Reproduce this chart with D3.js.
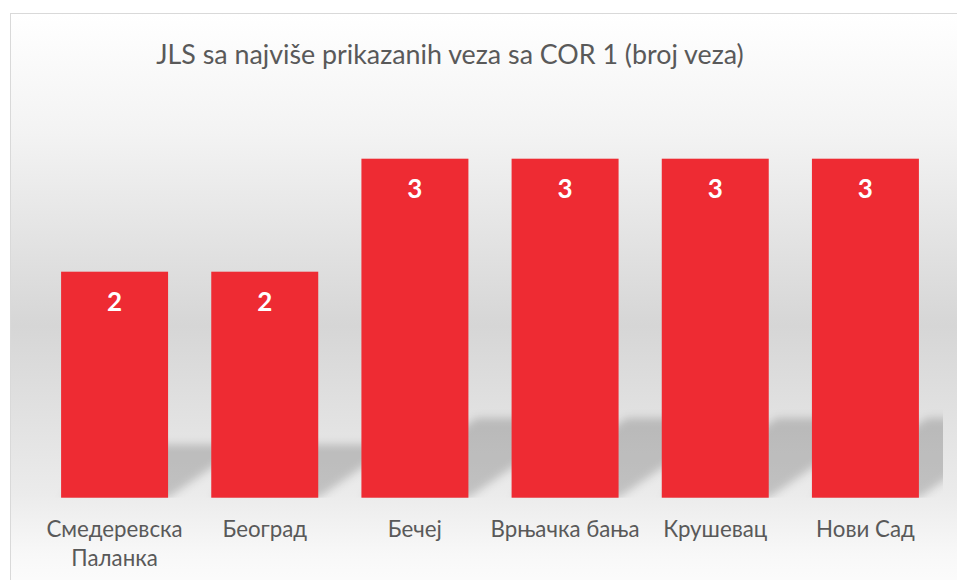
<!DOCTYPE html>
<html lang="sr">
<head>
  <meta charset="UTF-8">
  <title>JLS sa najviše prikazanih veza sa COR 1 (broj veza)</title>
  <script src="https://cdn.jsdelivr.net/npm/d3@7/dist/d3.min.js"></script>
  <style>
    html, body { margin: 0; padding: 0; background: #fff; }
    body { font-family: Lato, "Open Sans", sans-serif; }
    .title { font-size: 26.8px; fill: #595959; text-anchor: middle; }
    .cat { font-size: 22.3px; fill: #595959; text-anchor: middle; }
    .val { font-size: 26px; font-weight: bold; fill: #fff; text-anchor: middle; }
  </style>
</head>
<body>
  <script>
    // data
    const categories = ["Смедеревска Паланка", "Београд", "Бечеј", "Врњачка бања", "Крушевац", "Нови Сад"];
    const values = [2, 2, 3, 3, 3, 3];
    const titleText = "JLS sa najviše prikazanih veza sa COR 1 (broj veza)";

    const W = 957, H = 580;
    const plot = {left: 39.5, right: 940.5, top: 158.7, bottom: 497.7};

    const svg = d3.select("body").append("svg")
      .attr("width", W)
      .attr("height", H);

    const defs = svg.append("defs");

    const grad = defs.append("linearGradient")
      .attr("id", "bg")
      .attr("x1", 0).attr("y1", 0).attr("x2", 0).attr("y2", 1);
    [[0, "#ffffff"], [0.2, "#f3f3f3"], [0.52, "#d6d6d6"], [0.8, "#ebebeb"], [0.9, "#f8f8f8"], [1, "#ffffff"]]
      .forEach(s => grad.append("stop").attr("offset", s[0]).attr("stop-color", s[1]));

    defs.append("filter")
      .attr("id", "blur")
      .attr("x", "-20%").attr("y", "-20%").attr("width", "140%").attr("height", "140%")
      .append("feGaussianBlur").attr("stdDeviation", 4);

    defs.append("clipPath").attr("id", "plotclip")
      .append("rect")
      .attr("x", plot.left).attr("y", 0)
      .attr("width", 943 - plot.left).attr("height", plot.bottom);

    // chart area
    svg.append("rect")
      .attr("x", 10.5).attr("y", 13.5)
      .attr("width", W + 20).attr("height", H + 20)
      .attr("fill", "url(#bg)")
      .attr("stroke", "#d9d9d9")
      .attr("stroke-width", 1);

    const x = d3.scaleBand()
      .domain(categories)
      .range([plot.left, plot.right])
      .paddingInner(0.2876)
      .paddingOuter(0.1438);

    const y = d3.scaleLinear()
      .domain([0, 3])
      .range([plot.bottom, plot.top]);

    const data = categories.map((c, i) => ({cat: c, val: values[i]}));

    // perspective shadows behind bars
    const shK = 0.235, skew = 1.45;
    svg.append("g")
      .attr("clip-path", "url(#plotclip)")
      .append("g")
      .attr("filter", "url(#blur)")
      .selectAll("path")
      .data(data)
      .enter().append("path")
      .attr("fill", "#000")
      .attr("fill-opacity", 0.18)
      .attr("d", d => {
        const x0 = x(d.cat), x1 = x0 + x.bandwidth();
        const yb = y(0);
        const sh = (yb - y(d.val)) * shK;
        const dx = sh * skew;
        return `M${x0},${yb}L${x1},${yb}L${x1 + dx},${yb - sh}L${x0 + dx},${yb - sh}Z`;
      });

    // bars
    svg.append("g")
      .selectAll("rect")
      .data(data)
      .enter().append("rect")
      .attr("x", d => x(d.cat))
      .attr("y", d => y(d.val))
      .attr("width", x.bandwidth())
      .attr("height", d => y(0) - y(d.val))
      .attr("fill", "#ee2b33");

    // value labels
    svg.append("g")
      .selectAll("text")
      .data(data)
      .enter().append("text")
      .attr("class", "val")
      .attr("x", d => x(d.cat) + x.bandwidth() / 2)
      .attr("y", d => y(d.val) + 39)
      .text(d => d.val);

    // category labels
    const catG = svg.append("g");
    data.forEach(d => {
      const lines = d.cat === "Смедеревска Паланка" ? d.cat.split(" ") : [d.cat];
      const t = catG.append("text")
        .attr("class", "cat")
        .attr("x", x(d.cat) + x.bandwidth() / 2)
        .attr("y", 537);
      lines.forEach((l, i) => {
        t.append("tspan")
          .attr("x", x(d.cat) + x.bandwidth() / 2)
          .attr("dy", i === 0 ? 0 : 29)
          .text(l);
      });
    });

    svg.append("text")
      .attr("class", "title")
      .attr("x", 450)
      .attr("y", 64)
      .text(titleText);
  </script>
</body>
</html>
